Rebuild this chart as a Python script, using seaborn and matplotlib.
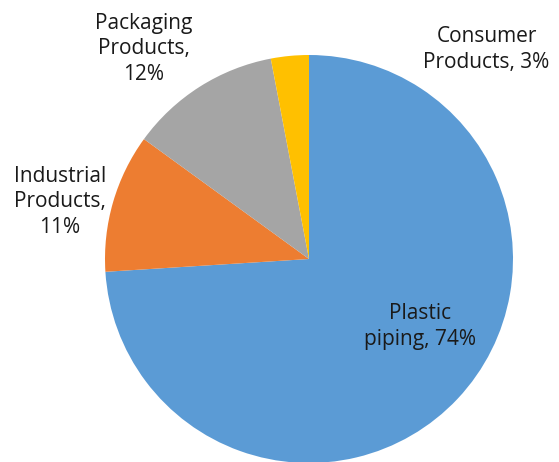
import matplotlib
matplotlib.use("Agg")
import matplotlib.pyplot as plt
import seaborn as sns

# 시장 비중 데이터
categories = ["Plastic piping", "Industrial Products", "Packaging Products", "Consumer Products"]
shares = [74, 11, 12, 3]
label_texts = ["Plastic\npiping, 74%", "Industrial\nProducts,\n11%", "Packaging\nProducts,\n12%", "Consumer\nProducts, 3%"]
colors = ["#5B9BD5", "#ED7D31", "#A5A5A5", "#FFC000"]

sns.set_theme(style="white")
plt.rcParams["font.family"] = ["Open Sans", "DejaVu Sans"]

fig = plt.figure(figsize=(5.59, 4.62), dpi=100)
# 파이 영역을 픽셀 기준으로 배치
ax = fig.add_axes([105 / 559, -1 / 462, 408 / 559, 408 / 462])

wedges, _ = ax.pie(shares, colors=colors, startangle=90, counterclock=False,
                   radius=1, wedgeprops=dict(linewidth=0))
ax.set_xlim(-1, 1)
ax.set_ylim(-1, 1)
ax.set_aspect("equal")
ax.axis("off")

# 라벨 위치 (데이터 좌표)
label_pos = [(0.544, -0.33), (-1.22, 0.28), (-0.81, 1.03), (0.87, 1.025)]
for txt, (x, y) in zip(label_texts, label_pos):
    ax.text(x, y, txt, ha="center", va="center", fontsize=15, color="#1a1a1a",
            multialignment="center", linespacing=1.3, clip_on=False)

fig.savefig("out.png", dpi=100)
